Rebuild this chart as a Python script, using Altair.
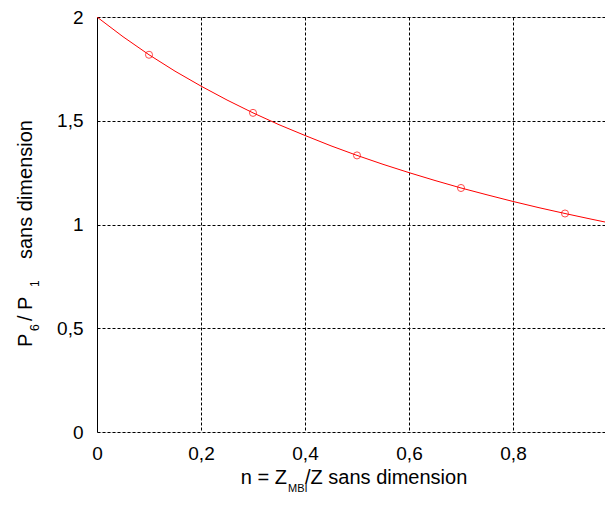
import altair as alt
import pandas as pd

# Curve
curve_n = [0.0, 0.05, 0.1, 0.15, 0.2, 0.25, 0.3, 0.35, 0.4, 0.45, 0.5,
           0.55, 0.6, 0.65, 0.7, 0.75, 0.8, 0.85, 0.9, 0.95, 1.0]
curve_ratio = [2.0, 1.905, 1.818, 1.739, 1.667, 1.6, 1.538, 1.481, 1.429, 1.379, 1.333,
               1.290, 1.25, 1.212, 1.176, 1.143, 1.111, 1.081, 1.053, 1.026, 1.0]

# Marker points
pt_n = [0.1, 0.3, 0.5, 0.7, 0.9]
pt_ratio = [1.818, 1.538, 1.333, 1.176, 1.053]

x_ticks = [0, 0.2, 0.4, 0.6, 0.8]
y_ticks = [0, 0.5, 1, 1.5, 2]

curve = pd.DataFrame({"n": curve_n, "r": curve_ratio})
pts = pd.DataFrame({"n": pt_n, "r": pt_ratio})

FONT = "Liberation Sans"
W, H = 508, 415
xmax = W / 520.0

label_expr = "replace(format(datum.value, ''), '.', ',')"

xs = alt.Scale(domain=[0, xmax], nice=False, zero=False)
ys = alt.Scale(domain=[0, 2], nice=False)

xaxis = alt.Axis(values=x_ticks, labelExpr=label_expr, title=None, grid=True,
                 gridColor="black", gridDash=[3, 2], gridOpacity=1, gridWidth=1,
                 domain=False, ticks=False, labelPadding=12, labelFont=FONT,
                 labelFontSize=19, labelColor="black", labelFlush=False)
yaxis = alt.Axis(values=y_ticks, labelExpr=label_expr, title=None, grid=True,
                 gridColor="black", gridDash=[3, 2], gridOpacity=1, gridWidth=1,
                 domain=True, domainColor="black", domainWidth=1, ticks=False,
                 labelPadding=14, labelFont=FONT, labelFontSize=19,
                 labelColor="black", labelFlush=False)

line = alt.Chart(curve).mark_line(color="#ff0000", strokeWidth=1, clip=True).encode(
    x=alt.X("n:Q", scale=xs, axis=xaxis),
    y=alt.Y("r:Q", scale=ys, axis=yaxis),
)
points = alt.Chart(pts).mark_point(shape="circle", filled=False, color="#ff0000",
                                   size=50, strokeWidth=1, clip=True).encode(
    x=alt.X("n:Q", scale=xs),
    y=alt.Y("r:Q", scale=ys),
)

def txt(s, x, y, size=20, align="left", baseline="alphabetic", angle=0):
    return alt.Chart(pd.DataFrame({"t": [s]})).mark_text(
        font=FONT, fontSize=size, color="black", align=align, baseline=baseline,
        angle=angle).encode(text="t:N", x=alt.value(x), y=alt.value(y))

# x title: n = Z_MBI/Z sans dimension
xt1 = txt("n = Z", 190, 467, align="right")
xt2 = txt("MBI", 191, 475, size=11)
xt3 = txt("/Z sans dimension", 208, 467)

# y title: P_6 / P_1 sans dimension (rotated)
yt1 = txt("P", -65, 330, angle=270)
yt2 = txt("6", -58, 314, size=12, angle=270)
yt3 = txt("/ P", -65, 304, angle=270)
yt4 = txt("1", -58, 270, size=12, angle=270)
yt5 = txt("sans dimension", -65, 242, angle=270)

chart = alt.layer(line, points, xt1, xt2, xt3, yt1, yt2, yt3, yt4, yt5).properties(
    width=W, height=H, autosize="none",
    padding={"left": 89, "top": 9, "right": 0, "bottom": 64},
).configure_view(stroke=None).configure(background="white")

chart.save("out.html", embed_options={"renderer": "svg", "actions": False})
